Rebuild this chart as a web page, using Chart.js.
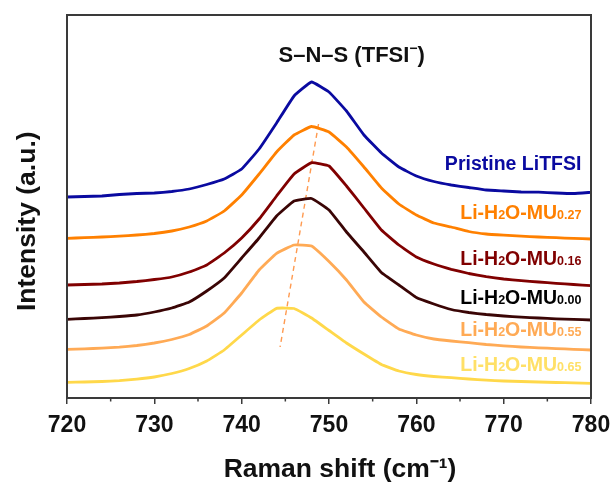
<!DOCTYPE html>
<html><head><meta charset="utf-8">
<script src="https://cdn.jsdelivr.net/npm/chart.js@4/dist/chart.umd.min.js"></script>
<style>html,body{margin:0;padding:0;background:#fff}#wrap{width:614px;height:486px;position:relative}</style>
</head><body><div id="wrap"><canvas id="c"></canvas></div>
<script>
// ---- data (Raman shift in cm-1, intensity in arbitrary offset units) ----
const ramanShift = [720,722,724,726,728,730,732,734,736,738,740,742,744,746,748,750,752,754,756,758,760,762,764,766,768,770,772,774,776,778,780];
const pristineLiTFSI = [201,201.5,202,203.5,204.5,205,206.5,209,213.5,219,229,249,275,302,316,306,287,263,245,231,222,216.5,213,210.5,208,207,206,205.8,205,204.5,205.7];
const mu027 = [159.7,160.3,161,161.8,163,164.5,167,171,177,187,203,224,246,263,271.5,266,251,231,210,194,183,175,171,166.5,164,162.8,161.8,161,160.3,159.6,159];
const mu016 = [113,113.5,114,115,116.5,118.5,121,126,133,145,160,179,202,224,235.3,232,212,190,168,153,141,134,128.7,124.5,121.3,119,117.4,116,114.7,113.5,112.3];
const mu000 = [78.7,79.5,80.3,81.5,83,86,90,96,107,120,140,160,182,197,199.5,188,166,146,125.5,113,100.5,94,88.5,85.5,83.5,82,80.8,80,79.2,78.6,78];
const mu055 = [48.7,49.2,49.8,50.8,52.5,55,58.5,63.5,72,85,105,128,144.7,153,152,136.5,118,96,81,69,63,59,57,55.3,53.5,52.2,51,50.2,49.4,48.7,48];
const mu065 = [15.7,16,16.5,17.3,18.8,21,24.5,29.5,37,48,63,78,89.7,89.5,80,67.5,55,44,33.5,27,23.5,21.5,20.3,19,17.8,17,16.5,16,15.5,15.1,14.7];
const shiftGuideX = [748.8, 744.4];
const shiftGuideY = [274, 51];
const seriesMain = ["Pristine LiTFSI","Li-H","Li-H","Li-H","Li-H","Li-H"];
const seriesSub = ["","0.27","0.16","0.00","0.55","0.65"];
const labelY = [235, 186, 140.5, 101, 69.5, 34];
const xTickLabels = [720,730,740,750,760,770,780];
const minorTicks = [725,735,745,755,765,775];

const lineColors = ['#0a0aa0','#ff8000','#800000','#3a0505','#ffaa55','#ffd84a'];
const textColors = ['#0a0aa0','#ff8000','#800000','#000000','#ffaa55','#ffe066'];
const FONT = '"Liberation Sans", Arial, sans-serif';

const seriesData = [pristineLiTFSI, mu027, mu016, mu000, mu055, mu065];
const datasets = seriesData.map((arr, i) => ({
  label: seriesMain[i] + seriesSub[i],
  data: ramanShift.map((x, k) => ({x, y: arr[k]})),
  borderColor: lineColors[i], borderWidth: 2.8, pointRadius: 0, tension: 0.1, fill: false,
  borderJoinStyle: 'round'
}));
datasets.push({
  label: 'guide',
  data: shiftGuideX.map((x, k) => ({x, y: shiftGuideY[k]})),
  borderColor: '#ff9a50', borderWidth: 1.4, borderDash: [5, 4], pointRadius: 0, fill: false
});

const overlay = {
  id: 'overlay',
  afterDatasetsDraw(chart) {
    const {ctx, chartArea: a, scales: {x, y}} = chart;
    ctx.save();
    ctx.strokeStyle = '#3a3a3a';
    ctx.lineWidth = 2;
    ctx.strokeRect(a.left, a.top, a.right - a.left, a.bottom - a.top);
    ctx.lineWidth = 1.5;
    for (const v of minorTicks) {
      const px = x.getPixelForValue(v);
      ctx.beginPath(); ctx.moveTo(px, a.bottom); ctx.lineTo(px, a.bottom + 3.5); ctx.stroke();
    }
    // series labels (right aligned)
    const big = 'bold 19.5px ' + FONT, small = 'bold 12.5px ' + FONT;
    ctx.textBaseline = 'alphabetic';
    ctx.textAlign = 'left';
    const xr = x.getPixelForValue(778.9);
    for (let i = 0; i < seriesMain.length; i++) {
      const yc = y.getPixelForValue(labelY[i]) + 7;
      ctx.fillStyle = textColors[i];
      let parts;
      if (seriesSub[i] === '') parts = [[seriesMain[i], big]];
      else parts = [[seriesMain[i], big], ['2', small], ['O-MU', big], [seriesSub[i], small]];
      let w = 0;
      for (const [t, f] of parts) { ctx.font = f; w += ctx.measureText(t).width; }
      let cx = xr - w;
      for (const [t, f] of parts) { ctx.font = f; ctx.fillText(t, cx, yc); cx += ctx.measureText(t).width; }
    }
    // peak annotation
    ctx.fillStyle = '#111';
    const f1 = 'bold 22px ' + FONT, f2 = 'bold 14px ' + FONT;
    const p1 = 'S\u2013N\u2013S (TFSI', p2 = '\u2212', p3 = ')';
    ctx.font = f1; const w1 = ctx.measureText(p1).width, w3 = ctx.measureText(p3).width;
    ctx.font = f2; const w2 = ctx.measureText(p2).width;
    let tx = x.getPixelForValue(752.6) - (w1 + w2 + w3) / 2;
    const ty = y.getPixelForValue(344) + 8;
    ctx.font = f1; ctx.fillText(p1, tx, ty); tx += w1;
    ctx.font = f2; ctx.fillText(p2, tx, ty - 9); tx += w2;
    ctx.font = f1; ctx.fillText(p3, tx, ty);
    ctx.restore();
  }
};

new Chart(document.getElementById('c'), {
  type: 'line',
  data: { datasets },
  options: {
    responsive: true, maintainAspectRatio: false, animation: false,
    layout: { padding: { top: 15, right: 23, left: 0, bottom: 0 } },
    plugins: { legend: { display: false }, tooltip: { enabled: false } },
    scales: {
      x: {
        type: 'linear', min: 720, max: 780,
        afterFit(s) { s.height = 88; s.paddingRight = 0; s.paddingLeft = 0; },
        afterBuildTicks(s) { s.ticks = xTickLabels.map(v => ({value: v})); },
        ticks: { font: { family: FONT, size: 23, weight: 'bold' }, color: '#111', padding: 8, maxRotation: 0 },
        grid: { drawOnChartArea: false, tickLength: 6, color: '#3a3a3a', lineWidth: 1.5 },
        border: { display: false },
        title: { display: true, text: '\u00A0\u00A0\u00A0Raman shift (cm\u207B\u00B9)', color: '#111',
                 font: { family: FONT, size: 26.5, weight: 'bold' }, padding: { top: 0, bottom: 0 } }
      },
      y: {
        min: 0, max: 383,
        afterFit(s) { s.width = 67; },
        ticks: { display: false },
        grid: { display: false },
        border: { display: false },
        title: { display: true, text: 'Intensity (a.u.)\u00A0\u00A0\u00A0\u00A0', color: '#111',
                 font: { family: FONT, size: 26.5, weight: 'bold' }, padding: { top: 11.5, bottom: 0 } }
      }
    }
  },
  plugins: [overlay]
});
</script>
</body></html>
